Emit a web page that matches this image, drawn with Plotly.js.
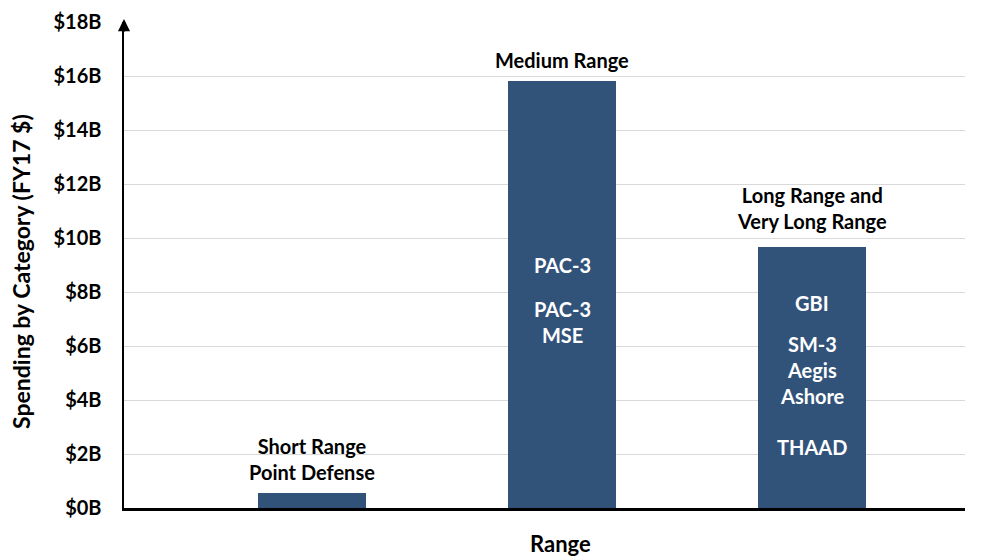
<!DOCTYPE html>
<html>
<head>
<meta charset="utf-8">
<script src="https://cdn.plot.ly/plotly-3.0.1.min.js"></script>
<style>html,body{margin:0;padding:0;background:#fff;}#chart{width:989px;height:556px;}</style>
</head>
<body>
<div id="chart"></div>
<script>
const categories = ["Short Range<br>Point Defense", "Medium Range", "Long Range and<br>Very Long Range"];
const spending = [0.55, 15.8, 9.67];
const tickValues = [0, 2, 4, 6, 8, 10, 12, 14, 16, 18];
const tickLabels = ["$0B", "$2B", "$4B", "$6B", "$8B", "$10B", "$12B", "$14B", "$16B", "$18B"];
const programLines = [[], ["PAC-3", "PAC-3<br>MSE"], ["GBI", "SM-3", "Aegis", "Ashore", "THAAD"]];
const programLineY = [[], [9.0, 6.88], [7.6, 6.07, 5.11, 4.13, 2.26]];

const FONT = "Lato, 'Open Sans', sans-serif";
const xs = categories.map((c, i) => i);

const trace = {
  type: "bar",
  x: xs,
  y: spending,
  width: 0.432,
  marker: {color: "#31537a"},
  hoverinfo: "skip"
};

const labelShift = [7, 7, 12];
const annotations = [];
categories.forEach((c, i) => {
  annotations.push({
    x: i, y: spending[i], xref: "x", yref: "y",
    text: c, showarrow: false, yanchor: "bottom", yshift: labelShift[i],
    font: {family: FONT, size: 20, color: "#000", weight: 700}
  });
  programLines[i].forEach((p, j) => {
    annotations.push({
      x: i, y: programLineY[i][j], xref: "x", yref: "y",
      text: p, showarrow: false, yanchor: "middle",
      font: {family: FONT, size: 20, color: "#fff", weight: 700}
    });
  });
});
// axis titles
annotations.push({
  x: 0.5196, y: -0.074, xref: "paper", yref: "paper",
  text: "Range", showarrow: false, xanchor: "center", yanchor: "middle",
  font: {family: FONT, size: 22, color: "#000", weight: 700}
});
annotations.push({
  x: -0.1225, y: 0.4877, xref: "paper", yref: "paper",
  text: "Spending by Category (FY17 $)", showarrow: false, textangle: -90,
  xanchor: "center", yanchor: "middle",
  font: {family: FONT, size: 23, color: "#000", weight: 700}
});
// arrowhead on y axis
annotations.push({
  x: 0, y: 1.006, xref: "paper", yref: "paper",
  ax: 0, ay: 14, axref: "pixel", ayref: "pixel",
  showarrow: true, arrowhead: 2, arrowsize: 1.1, arrowwidth: 2.2, arrowcolor: "#000", text: ""
});

const layout = {
  width: 989, height: 556,
  margin: {l: 124, r: 24, t: 22, b: 48},
  paper_bgcolor: "#fff", plot_bgcolor: "#fff",
  showlegend: false,
  bargap: 0,
  xaxis: {
    range: [-0.752, 2.612],
    showticklabels: false, ticks: "", showgrid: false, zeroline: false,
    showline: true, linecolor: "#000", linewidth: 3
  },
  yaxis: {
    range: [0, 18],
    tickvals: tickValues, ticktext: tickLabels,
    tickfont: {family: FONT, size: 20, color: "#000", weight: 700},
    ticks: "", ticklen: 0, ticklabelstandoff: 16,
    showgrid: true, gridcolor: "#d9d9d9", gridwidth: 1,
    zeroline: false,
    showline: true, linecolor: "#000", linewidth: 2.5
  },
  annotations: annotations
};

Plotly.newPlot("chart", [trace], layout, {displayModeBar: false, staticPlot: true});
</script>
</body>
</html>
